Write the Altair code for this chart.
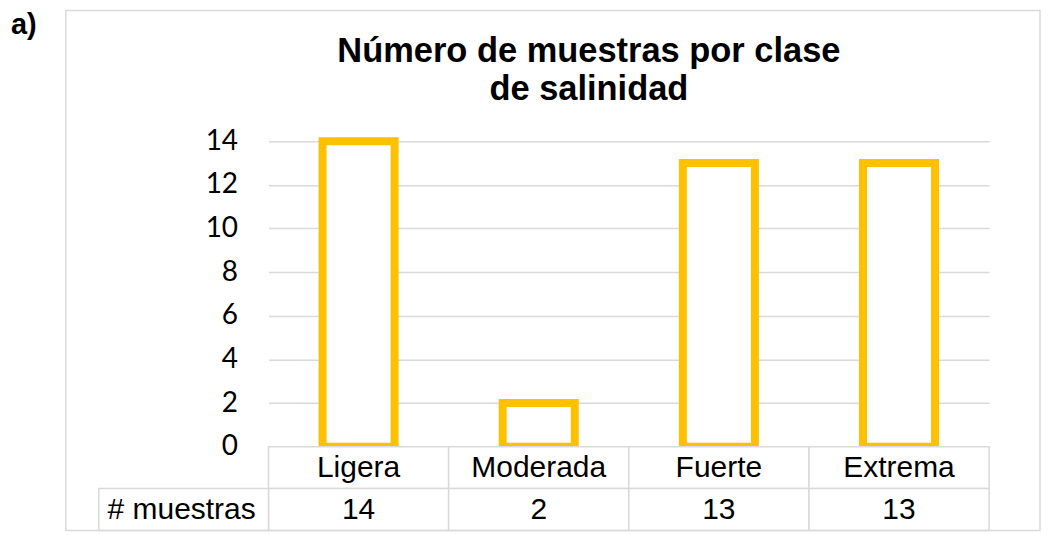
import altair as alt
import pandas as pd

# ---- data ----
categories = ["Ligera", "Moderada", "Fuerte", "Extrema"]
counts = [14, 2, 13, 13]
y_ticks = [0, 2, 4, 6, 8, 10, 12, 14]
row_keys = ["cat", "val"]
row_label = "# muestras"
title_lines = ["Número de muestras por clase", "de salinidad"]
panel_tag = "a)"

GRID = "#d9d9d9"
BAR = "#FFC000"
FONT = "Liberation Sans"

bars_df = pd.DataFrame({"clase": categories, "n": counts})

x_bar = alt.X(
    "clase:N", sort=categories, axis=None,
    scale=alt.Scale(domain=categories, paddingInner=0.6, paddingOuter=0.3),
)
y_bar = alt.Y(
    "n:Q",
    scale=alt.Scale(domain=[0, 14], nice=False),
    axis=alt.Axis(
        values=y_ticks, title=None, grid=True, gridColor=GRID, gridWidth=1.5,
        domain=False, ticks=False, labelFont="Lato", labelFontSize=28,
        labelColor="black", labelPadding=31,
    ),
)

top = (
    alt.Chart(bars_df)
    .mark_bar(fill="white", stroke=BAR, strokeWidth=8)
    .encode(x=x_bar, y=y_bar)
    .properties(
        width=722, height=306,
        title=alt.TitleParams(
            text=title_lines, font=FONT, fontSize=34.5, fontWeight="bold",
            color="black", anchor="middle", frame="group", dx=-40,
            offset=20, lineHeight=38,
        ),
    )
)

# ---- data table under the chart ----
table_rows = []
for c, n in zip(categories, counts):
    table_rows.append({"clase": c, "fila": row_keys[0], "texto": c})
    table_rows.append({"clase": c, "fila": row_keys[1], "texto": str(n)})
table_df = pd.DataFrame(table_rows)

x_tab = alt.X(
    "clase:N", sort=categories, axis=None,
    scale=alt.Scale(domain=categories, paddingInner=0, paddingOuter=0),
)
y_tab = alt.Y(
    "fila:N", axis=None,
    scale=alt.Scale(domain=row_keys, paddingInner=0, paddingOuter=0),
)

cells = alt.Chart(table_df).mark_rect(
    fill="white", stroke=GRID, strokeWidth=1.5
).encode(x=x_tab, y=y_tab)

cell_text = alt.Chart(table_df).mark_text(
    font=FONT, fontSize=30, color="black", baseline="middle", align="center"
).encode(x=x_tab, y=y_tab, text="texto:N")

label_df = pd.DataFrame({"fila": [row_keys[1]], "texto": [row_label]})
label_cell = alt.Chart(label_df).mark_rect(
    fill="white", stroke=GRID, strokeWidth=1.5
).encode(x=alt.value(-170), x2=alt.value(0), y=y_tab)
label_text = alt.Chart(label_df).mark_text(
    font=FONT, fontSize=30, color="black", baseline="middle", align="center"
).encode(x=alt.value(-87), y=y_tab, text="texto:N")

frame = alt.Chart(alt.Data(values=[{"k": 1}])).mark_rect(
    fill="white", fillOpacity=0, stroke=GRID, strokeWidth=1.5
).encode(x=alt.value(-203), x2=alt.value(773), y=alt.value(-437), y2=alt.value(84))

tag = alt.Chart(alt.Data(values=[{"t": panel_tag}])).mark_text(
    align="left", baseline="alphabetic", font=FONT, fontSize=29,
    fontWeight="bold", color="black",
).encode(x=alt.value(-258), y=alt.value(-413), text="t:N")

table = alt.layer(cells, cell_text, label_cell, label_text, frame, tag).properties(
    width=722, height=84
)

chart = (
    alt.vconcat(top, table, spacing=0, bounds="flush")
    .properties(padding={"left": 2, "top": 0, "right": 0, "bottom": 0})
    .configure_view(stroke="transparent")
)

chart.save("out.html", embed_options={"renderer": "svg", "actions": False})
